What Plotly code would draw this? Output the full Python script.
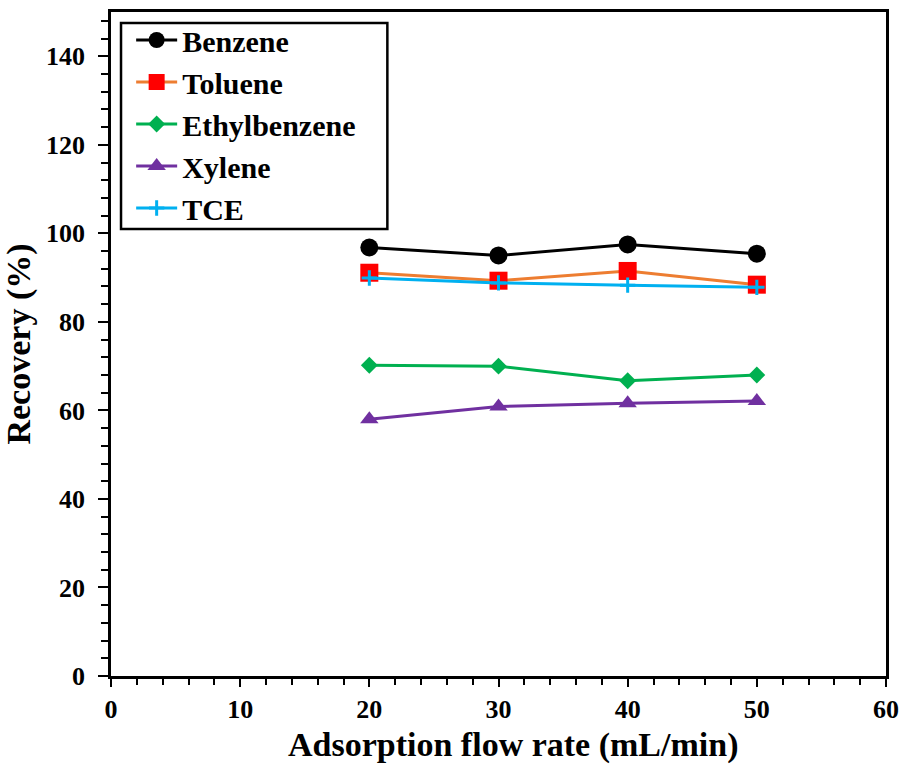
import plotly.graph_objects as go

flow_rate = [20, 30, 40, 50]
benzene = [96.8, 95.0, 97.5, 95.4]
toluene = [91.1, 89.3, 91.5, 88.4]
ethylbenzene = [70.2, 70.0, 66.7, 68.0]
xylene = [58.0, 60.9, 61.6, 62.1]
tce = [89.9, 88.8, 88.3, 87.8]

FONT = "Liberation Serif"

series = [
    ("Benzene", benzene, "#000000", "#000000", "circle", 18),
    ("Toluene", toluene, "#ED7D31", "#FF0000", "square", 18),
    ("Ethylbenzene", ethylbenzene, "#00B050", "#00B050", "diamond", 13),
    ("Xylene", xylene, "#7030A0", "#7030A0", "triangle-up", 16),
    ("TCE", tce, "#00B0F0", "#00B0F0", "cross-thin", 11),
]

fig = go.Figure()
for name, vals, lc, mc, sym, sz in series:
    marker = dict(symbol=sym, size=sz, color=mc)
    if sym == "cross-thin":
        marker["line"] = dict(color=mc, width=3)
    fig.add_trace(go.Scatter(
        x=flow_rate, y=vals, name=f"<b>{name}</b>", mode="lines+markers",
        line=dict(color=lc, width=3), marker=marker,
    ))

tick_font = dict(family=FONT, size=26, color="black", weight="bold")
title_font = dict(family=FONT, size=34, color="black", weight="bold")

axis_common = dict(
    showline=True, linecolor="black", linewidth=2.5, mirror=True,
    ticks="outside", tickwidth=2, tickcolor="black",
    showgrid=False, zeroline=False, automargin=False,
    tickfont=tick_font,
)

fig.update_xaxes(
    range=[0, 60], tick0=0, dtick=10, ticklen=8,
    minor=dict(ticks="outside", ticklen=6, tickwidth=2, dtick=2, tickcolor="black"),
    **axis_common,
)
fig.update_yaxes(
    range=[0, 150], tickvals=[0, 20, 40, 60, 80, 100, 120, 140], ticklen=10,
    ticklabelstandoff=8,
    minor=dict(ticks="outside", ticklen=7, tickwidth=2,
               tickvals=list(range(0, 151, 4)), tickcolor="black"),
    title=dict(text="Recovery (%)", font=title_font, standoff=14),
    **axis_common,
)

# x-axis title as a paper-anchored annotation below the tick labels
fig.add_annotation(
    text="Adsorption flow rate (mL/min)", font=title_font,
    xref="paper", yref="paper", x=0.519, y=-0.074,
    xanchor="center", yanchor="top", showarrow=False, borderpad=0,
)

# framed box behind the legend entries
fig.add_shape(
    type="rect", xref="paper", yref="paper",
    x0=10 / 774, x1=276 / 774, y0=447 / 664, y1=653 / 664,
    line=dict(color="black", width=2.5), fillcolor="white", layer="above",
)

fig.update_layout(
    width=904, height=765,
    margin=dict(l=111, r=18, t=12, b=89),
    plot_bgcolor="white", paper_bgcolor="white",
    legend=dict(
        x=0.026, y=0.997, xanchor="left", yanchor="top",
        bgcolor="rgba(0,0,0,0)", borderwidth=0,
        font=dict(family=FONT, size=30, color="black"),
        itemwidth=41, tracegroupgap=0,
    ),
    showlegend=True,
)

fig.write_html("out.html")
